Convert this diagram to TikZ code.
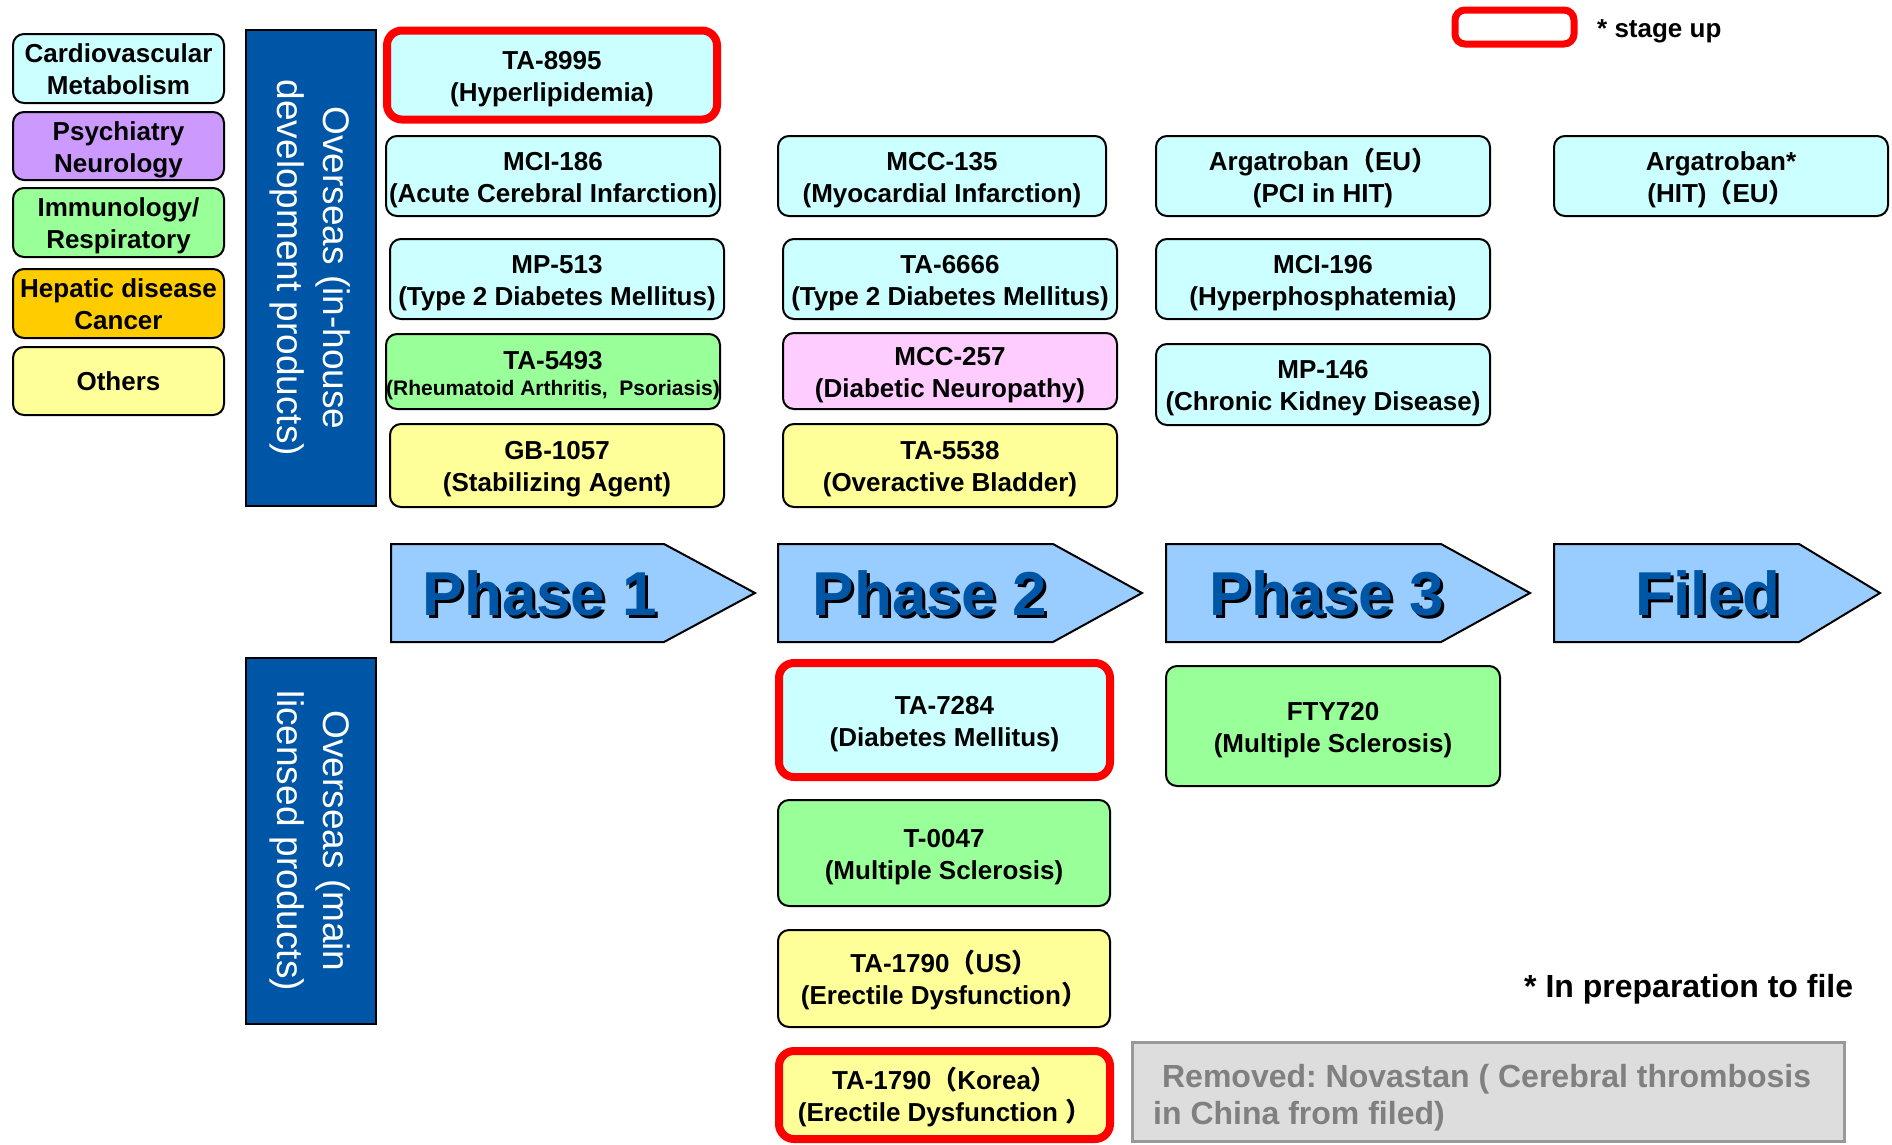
\documentclass[tikz,border=0pt]{standalone}
\usepackage{fontspec}
\setmainfont{Liberation Sans}
\newfontfamily\cjk{Noto Sans CJK JP}
\definecolor{cvc}{HTML}{CCFFFF}
\definecolor{psyc}{HTML}{CC99FF}
\definecolor{immc}{HTML}{99FF99}
\definecolor{hepc}{HTML}{FFCC00}
\definecolor{othc}{HTML}{FFFF99}
\definecolor{pinkc}{HTML}{FFCCFF}
\definecolor{bandc}{RGB}{0,86,166}
\definecolor{phasec}{HTML}{99CCFF}
\definecolor{stagered}{HTML}{FF0000}
\definecolor{remfill}{HTML}{DDDDDD}
\definecolor{remdraw}{HTML}{999999}
\definecolor{remtext}{HTML}{808080}
\newcommand{\fwp}[1]{{\cjk #1}}
\newcommand{\bstrut}{\rule[-6pt]{0pt}{32pt}}
\newcommand{\twol}[2]{\bstrut#1\\#2\bstrut}
\frenchspacing
\begin{document}
\begin{tikzpicture}[x=1pt,y=-1pt,
  box/.style={draw=black, line width=2pt, rounded corners=11pt, align=center, inner sep=0pt,
    font=\fontsize{26}{32}\selectfont\bfseries},
  pbox/.style={box, minimum width=334pt, minimum height=80pt},
  legbox/.style={box, minimum width=211pt, minimum height=68pt},
  upbox/.style={draw=stagered, line width=8pt, rounded corners=15pt},
  band/.style={draw=black, line width=1.5pt, fill=bandc, minimum width=130pt, inner sep=0pt},
  bandtext/.style={text=white, rotate=-90, align=center, font=\fontsize{37}{46}\selectfont},
  phasearrow/.style={draw=black, line width=2pt, fill=phasec, line join=miter},
  phasetext/.style={font=\fontsize{62}{62}\selectfont\bfseries, anchor=base, text=bandc},
  phaseshadow/.style={font=\fontsize{62}{62}\selectfont\bfseries, anchor=base, text=black},
  note/.style={font=\fontsize{26}{32}\selectfont\bfseries, anchor=base west, inner sep=0pt}
]
\useasboundingbox (0,0) rectangle (1892,1144);
\fill[white] (0,0) rectangle (1892,1144);

% legend of areas
\node[legbox, fill=cvc, minimum height=69pt] (cv) at (118.5,68.5) {\twol{Cardiovascular}{Metabolism}};
\node[legbox, fill=psyc] (psy) at (118.5,146) {\twol{Psychiatry}{Neurology}};
\node[legbox, fill=immc, minimum height=69pt] (imm) at (118.5,222.5) {\twol{Immunology/}{Respiratory}};
\node[legbox, fill=hepc, minimum height=69pt] (hep) at (118.5,303.5) {\twol{Hepatic disease}{Cancer}};
\node[legbox, fill=othc] (oth) at (118.5,381) {Others};

% bands
\node[band, minimum height=476pt] (band1) at (311,268) {};
\node[bandtext] (band1t) at (310,268) {Overseas (in-house\\development products)};
\node[band, minimum height=366pt] (band2) at (311,841) {};
\node[bandtext] (band2t) at (310,841) {Overseas (main\\licensed products)};

% stage up legend
\node[upbox, minimum width=119pt, minimum height=34pt, rounded corners=10pt, line width=7pt] (leg) at (1514.5,27) {};
\node[note] (legt) at (1597,37) {* stage up};

% Phase 1 column
\node[box, fill=cvc, minimum width=330pt, minimum height=89pt, upbox] (ta8995) at (552,75) {\twol{TA-8995}{(Hyperlipidemia)}};
\node[pbox, fill=cvc] (mci186) at (553,176) {\twol{MCI-186}{(Acute Cerebral Infarction)}};
\node[pbox, fill=cvc] (mp513) at (557,279) {\twol{MP-513}{(Type 2 Diabetes Mellitus)}};
\node[pbox, fill=immc, minimum height=75pt] (ta5493) at (553,371.5) {\rule[-6pt]{0pt}{33.5pt}TA-5493\\[-5.5pt]{\fontsize{21}{26}\selectfont\rule[-6pt]{0pt}{26pt}(Rheumatoid Arthritis,\ \ Psoriasis)}};
\node[pbox, fill=othc, minimum height=83pt] (gb1057) at (557,465.5) {\twol{GB-1057}{(Stabilizing Agent)}};

% Phase 2 column
\node[pbox, fill=cvc, minimum width=328pt] (mcc135) at (942,176) {\twol{MCC-135}{(Myocardial Infarction)}};
\node[pbox, fill=cvc] (ta6666) at (950,279) {\twol{TA-6666}{(Type 2 Diabetes Mellitus)}};
\node[pbox, fill=pinkc, minimum height=76pt] (mcc257) at (950,371) {\twol{MCC-257}{(Diabetic Neuropathy)}};
\node[pbox, fill=othc, minimum height=83pt] (ta5538) at (950,465.5) {\twol{TA-5538}{(Overactive Bladder)}};

% Phase 3 column
\node[pbox, fill=cvc] (argeu) at (1323,176) {\twol{Argatroban\fwp{（}EU\fwp{）}}{(PCI in HIT)}};
\node[pbox, fill=cvc] (mci196) at (1323,279) {\twol{MCI-196}{(Hyperphosphatemia)}};
\node[pbox, fill=cvc, minimum height=81pt] (mp146) at (1323,384.5) {\twol{MP-146}{(Chronic Kidney Disease)}};

% Filed column
\node[pbox, fill=cvc] (argstar) at (1721,176) {\twol{Argatroban*}{(HIT)\fwp{（}EU\fwp{）}}};

% phase arrows
\draw[phasearrow] (391,544) -- (664,544) -- (755,593) -- (664,642) -- (391,642) -- cycle;
\draw[phasearrow] (778,544) -- (1053,544) -- (1142,593) -- (1053,642) -- (778,642) -- cycle;
\draw[phasearrow] (1166,544) -- (1441,544) -- (1530,593) -- (1441,642) -- (1166,642) -- cycle;
\draw[phasearrow] (1554,544) -- (1799,544) -- (1880,593) -- (1799,642) -- (1554,642) -- cycle;
\node[phaseshadow] (ph1s) at (543,618) {Phase 1};
\node[phasetext] (ph1) at (540,615) {Phase 1};
\node[phaseshadow] (ph2s) at (933,618) {Phase 2};
\node[phasetext] (ph2) at (930,615) {Phase 2};
\node[phaseshadow] (ph3s) at (1330,618) {Phase 3};
\node[phasetext] (ph3) at (1327,615) {Phase 3};
\node[phaseshadow] (fls) at (1711,618) {Filed};
\node[phasetext] (fl) at (1708,615) {Filed};

% licensed products
\node[box, fill=cvc, minimum width=331pt, minimum height=114pt, upbox] (ta7284) at (944.5,720) {\twol{TA-7284}{(Diabetes Mellitus)}};
\node[pbox, fill=immc, minimum width=332pt, minimum height=106pt] (t0047) at (944,853) {\twol{T-0047}{(Multiple Sclerosis)}};
\node[pbox, fill=othc, minimum width=332pt, minimum height=97pt] (ta1790us) at (944,978.5) {\twol{TA-1790\fwp{（}US\fwp{）}}{(Erectile Dysfunction\fwp{）}}};
\node[box, fill=othc, minimum width=331pt, minimum height=88pt, upbox] (ta1790k) at (944.5,1095) {\twol{TA-1790\fwp{（}Korea\fwp{）}}{(Erectile Dysfunction \fwp{）}}};
\node[pbox, fill=immc, minimum height=120pt] (fty720) at (1333,726) {\twol{FTY720}{(Multiple Sclerosis)}};

% notes
\node[note, font=\fontsize{32}{38}\selectfont\bfseries] (prep) at (1524,997) {* In preparation to file};
\node[draw=remdraw, line width=3pt, fill=remfill, minimum width=712pt, minimum height=99pt, inner sep=0pt] (removed) at (1488,1091.5) {};
\node[anchor=west, align=left, inner sep=0pt, text=remtext, font=\fontsize{32}{37}\selectfont\bfseries] (removedt) at (1153,1098) {\ Removed: Novastan ( Cerebral thrombosis\\in China from filed)};
\end{tikzpicture}
\end{document}
